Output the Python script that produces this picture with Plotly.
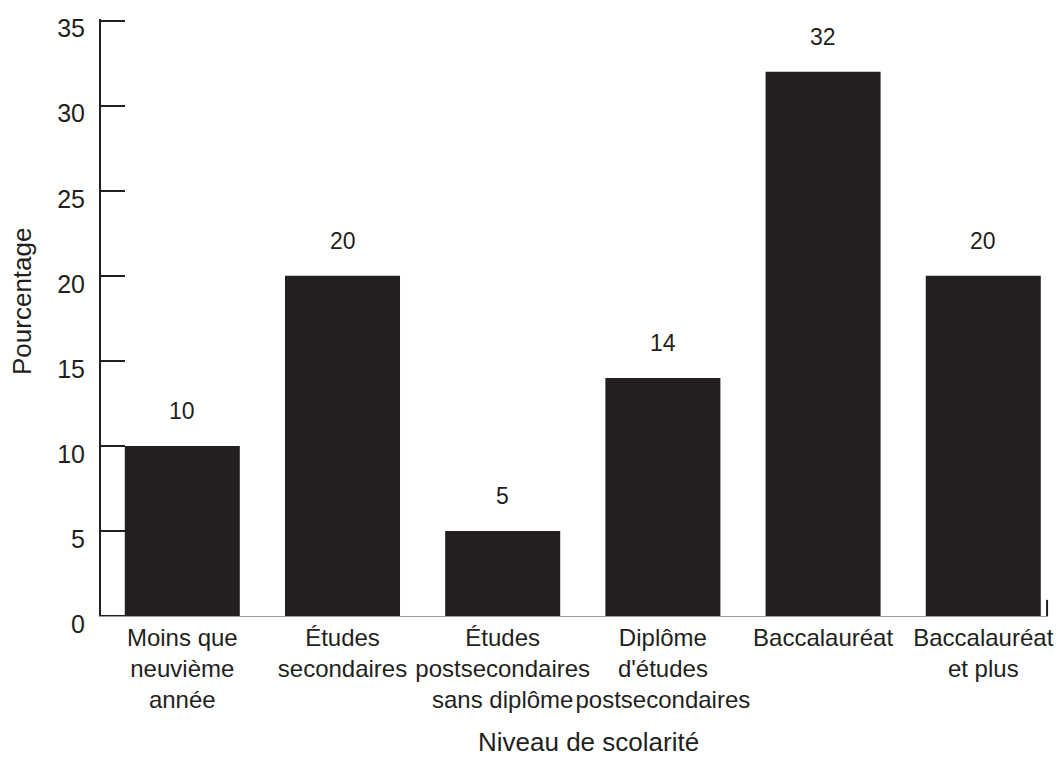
import plotly.graph_objects as go

# Niveau de scolarité et pourcentages
categories = [
    "Moins que neuvième année",
    "Études secondaires",
    "Études postsecondaires sans diplôme",
    "Diplôme d'études postsecondaires",
    "Baccalauréat",
    "Baccalauréat et plus",
]
tick_labels = [
    "Moins que<br>neuvième<br>année",
    "Études<br>secondaires",
    "Études<br>postsecondaires<br>sans diplôme",
    "Diplôme<br>d'études<br>postsecondaires",
    "Baccalauréat",
    "Baccalauréat<br>et plus",
]
values = [10, 20, 5, 14, 32, 20]
y_ticks = [0, 5, 10, 15, 20, 25, 30, 35]

INK = "#231f20"
FONT = "Liberation Sans, Arial, Helvetica, sans-serif"

fig = go.Figure()
fig.add_trace(go.Bar(
    x=categories,
    y=values,
    marker=dict(color=INK, line=dict(width=0)),
    hoverinfo="x+y",
))

# Value labels above each bar
for cat, v in zip(categories, values):
    fig.add_annotation(
        x=cat, y=v, xref="x", yref="y",
        text=str(v), showarrow=False,
        yanchor="middle", yshift=35,
        font=dict(family=FONT, size=23, color=INK),
    )

# Axis titles
fig.add_annotation(
    x=0.515, y=-0.2395, xref="paper", yref="paper",
    text="Niveau de scolarité", showarrow=False,
    xanchor="center", yanchor="bottom",
    font=dict(family=FONT, size=26, color=INK),
)
fig.add_annotation(
    x=-0.0834, y=0.526, xref="paper", yref="paper",
    text="Pourcentage", showarrow=False, textangle=-90,
    xanchor="center", yanchor="middle",
    font=dict(family=FONT, size=26, color=INK),
)

# Inside tick at the origin (drawn over the axis corner)
fig.add_shape(
    type="line", xref="paper", yref="y",
    x0=0, x1=24 / 947, y0=y_ticks[0], y1=y_ticks[0],
    line=dict(color=INK, width=2),
)
# Small end tick at the right of the horizontal axis
fig.add_shape(
    type="line", xref="paper", yref="paper",
    x0=0.999, x1=0.999, y0=0, y1=0.027,
    line=dict(color=INK, width=2),
)

fig.update_layout(
    width=1061, height=760,
    margin=dict(l=101, r=13, t=19, b=144, autoexpand=False),
    paper_bgcolor="white", plot_bgcolor="white",
    bargap=0.282,
    showlegend=False,
    font=dict(family=FONT, size=23, color=INK),
    xaxis=dict(
        range=[-0.5075, 5.404],
        tickmode="array", tickvals=categories, ticktext=tick_labels,
        showline=True, linecolor="#9a9a9a", linewidth=1,
        ticks="", showgrid=False, zeroline=False,
        tickangle=0, automargin=False,
        tickfont=dict(family=FONT, size=24, color=INK),
        fixedrange=True,
    ),
    yaxis=dict(
        range=[0, 35.1],
        tickvals=y_ticks,
        ticktext=[str(t) for t in y_ticks],
        showline=True, linecolor=INK, linewidth=2,
        ticks="inside", ticklen=24, tickwidth=2, tickcolor=INK,
        ticklabelstandoff=9, ticklabelshift=8,
        showgrid=False, zeroline=False, automargin=False,
        tickfont=dict(family=FONT, size=25, color=INK),
        fixedrange=True,
    ),
)

fig.write_html("out.html")
